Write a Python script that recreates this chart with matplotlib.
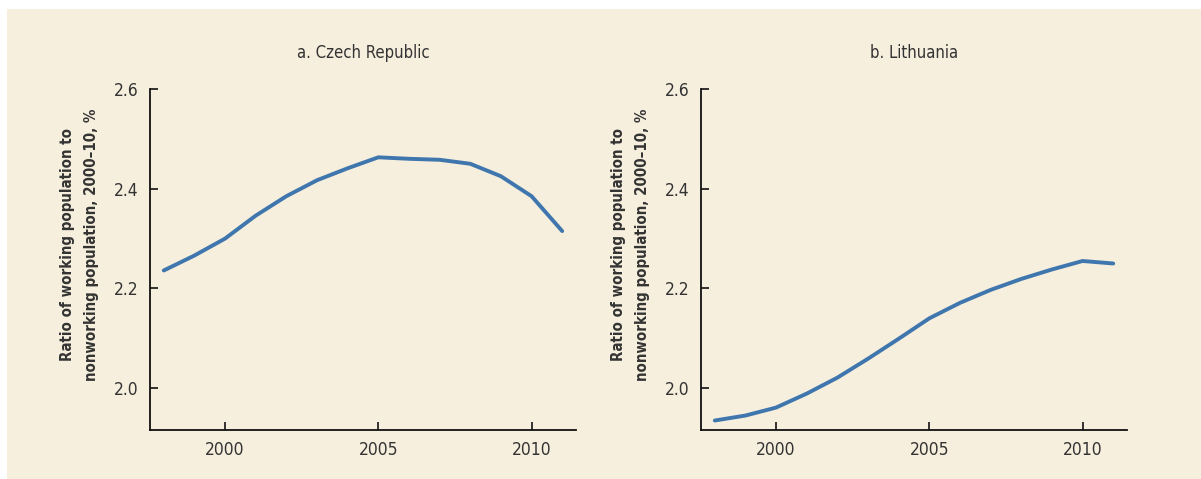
import matplotlib
matplotlib.use("Agg")
import matplotlib.pyplot as plt
from matplotlib.patches import Rectangle

plt.rcParams["font.family"] = ["DejaVu Sans"]
plt.rcParams["font.stretch"] = "condensed"

years = list(range(1998, 2012))
czech = [2.236, 2.266, 2.300, 2.346, 2.385, 2.417, 2.441, 2.463,
         2.460, 2.458, 2.450, 2.425, 2.385, 2.315]
lithuania = [1.935, 1.945, 1.961, 1.989, 2.021, 2.059, 2.099, 2.140,
             2.171, 2.197, 2.219, 2.238, 2.255, 2.250]
titles = ["a. Czech Republic", "b. Lithuania"]
ylabel = "Ratio of working population to\nnonworking population, 2000\u201310, %"
xticks = [2000, 2005, 2010]
yticks = [2.0, 2.2, 2.4, 2.6]

bg = "#f6efdd"
line_color = "#3f76ad"
text_color = "#333333"

W, H = 1201, 479
fig = plt.figure(figsize=(W / 100, H / 100), dpi=100)
fig.patch.set_facecolor("white")
fig.patches.append(Rectangle((7 / W, 0), 1, 1 - 9 / H, transform=fig.transFigure,
                             facecolor=bg, edgecolor="none", zorder=-10))

ax_lefts = [150, 701]
for left, title, values in zip(ax_lefts, titles, [czech, lithuania]):
    ax = fig.add_axes((left / W, 49 / H, 426 / W, 341 / H))
    ax.set_facecolor(bg)
    ax.plot(years, values, color=line_color, lw=2.8, solid_capstyle="round")
    ax.set_xlim(1997.55, 2011.45)
    ax.set_ylim(1.916, 2.6)
    ax.set_xticks(xticks)
    ax.set_yticks(yticks)
    ax.set_yticklabels([f"{v:.1f}" for v in yticks])
    for s in ["top", "right"]:
        ax.spines[s].set_visible(False)
    for s in ["left", "bottom"]:
        ax.spines[s].set_linewidth(1.3)
        ax.spines[s].set_color("#111111")
    ax.tick_params(direction="in", length=6, width=1.2, pad=8,
                   labelsize=12.5, labelcolor=text_color, color="#111111")
    ax.set_title(title, fontsize=12, color=text_color, pad=22)
    ax.set_ylabel(ylabel, fontsize=10.8, fontweight="bold", color=text_color,
                  linespacing=1.75)
    ax.yaxis.set_label_coords(-0.12, 0.543)

fig.savefig("out.png", dpi=100, facecolor=fig.get_facecolor())
